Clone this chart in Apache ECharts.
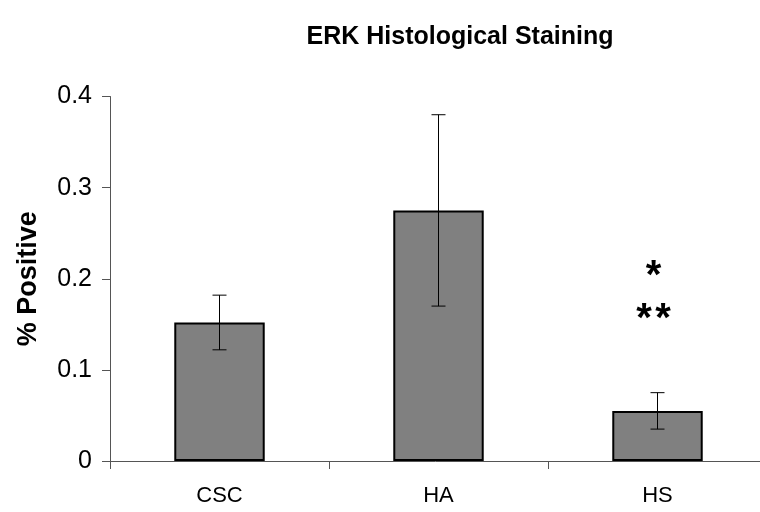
<!DOCTYPE html>
<html>
<head>
<meta charset="utf-8">
<script src="https://cdn.jsdelivr.net/npm/echarts@6/dist/echarts.min.js"></script>
<style>
  html, body { margin: 0; padding: 0; background: #fff; }
  #chart { width: 760px; height: 512px; }
</style>
</head>
<body>
<div id="chart"></div>
<script>
// ERK staining: mean fraction positive per group, with error bars
const categories = ['CSC', 'HA', 'HS'];
const meanValues = [0.152, 0.275, 0.055];
const errorValues = [0.030, 0.105, 0.020];
const yTicks = [0, 0.1, 0.2, 0.3, 0.4];
// Significance markers drawn over the HS bar
const markerText = ['*', '**'];
const markerValues = [0.2115, 0.1647];

const FONT = '"Liberation Sans", Arial, sans-serif';

const errorData = categories.map((c, i) => [i, meanValues[i] - errorValues[i], meanValues[i] + errorValues[i]]);
const markerData = markerText.map((t, i) => ({ value: [2, markerValues[i]], text: t }));

const chart = echarts.init(document.getElementById('chart'), null, { renderer: 'canvas' });

chart.setOption({
  animation: false,
  backgroundColor: '#ffffff',
  title: {
    text: 'ERK Histological Staining',
    left: 455,
    top: 20,
    textAlign: 'center',
    textStyle: { fontFamily: FONT, fontWeight: 'bold', fontSize: 25, color: '#000' }
  },
  // the plot area runs slightly past the right edge of the canvas
  grid: { left: 110, top: 96.5, width: 657, height: 364.5, containLabel: false, outerBoundsMode: 'none' },
  xAxis: {
    type: 'category',
    data: categories,
    axisLine: { lineStyle: { color: '#555', width: 1 } },
    axisTick: { show: true, length: 8, alignWithLabel: false, lineStyle: { color: '#555' } },
    axisLabel: { fontFamily: FONT, fontSize: 22, color: '#000', margin: 24 },
    splitLine: { show: false }
  },
  yAxis: {
    type: 'value',
    min: 0,
    max: 0.4,
    interval: 0.1,
    name: '% Positive',
    nameLocation: 'middle',
    nameGap: 68,
    nameTextStyle: { fontFamily: FONT, fontWeight: 'bold', fontSize: 27, color: '#000' },
    axisLine: { show: true, lineStyle: { color: '#555', width: 1 } },
    axisTick: { show: true, length: 8, lineStyle: { color: '#555' } },
    axisLabel: {
      fontFamily: FONT, fontSize: 25, color: '#000', margin: 18,
      formatter: v => (yTicks.includes(Math.round(v * 10) / 10) ? (v === 0 ? '0' : String(Math.round(v * 10) / 10)) : '')
    },
    splitLine: { show: false }
  },
  series: [
    {
      type: 'bar',
      data: meanValues,
      barWidth: '41.3%',
      itemStyle: { color: '#808080', borderColor: '#000', borderWidth: 2 },
      z: 2
    },
    {
      type: 'custom',
      data: errorData,
      z: 3,
      renderItem: function (params, api) {
        const x = api.value(0);
        const lo = api.coord([x, api.value(1)]);
        const hi = api.coord([x, api.value(2)]);
        const cap = 7;
        const style = { stroke: '#000', lineWidth: 1 };
        return {
          type: 'group',
          children: [
            { type: 'line', shape: { x1: hi[0], y1: hi[1], x2: lo[0], y2: lo[1] }, style },
            { type: 'line', shape: { x1: hi[0] - cap, y1: hi[1], x2: hi[0] + cap, y2: hi[1] }, style },
            { type: 'line', shape: { x1: lo[0] - cap, y1: lo[1], x2: lo[0] + cap, y2: lo[1] }, style }
          ]
        };
      }
    },
    {
      type: 'custom',
      data: markerData,
      z: 4,
      renderItem: function (params, api) {
        const p = api.coord([api.value(0), api.value(1)]);
        const stars = markerData[params.dataIndex].text.split('');
        const gap = 19;
        const x0 = p[0] - 4 - (stars.length - 1) * gap / 2;
        return {
          type: 'group',
          children: stars.map((s, k) => ({
            type: 'text',
            x: x0 + k * gap,
            y: p[1] + 9,
            style: {
              text: s,
              fontFamily: FONT,
              fontWeight: 'bold',
              fontSize: 40,
              fill: '#000',
              align: 'center',
              verticalAlign: 'middle'
            }
          }))
        };
      }
    }
  ]
});
</script>
</body>
</html>
